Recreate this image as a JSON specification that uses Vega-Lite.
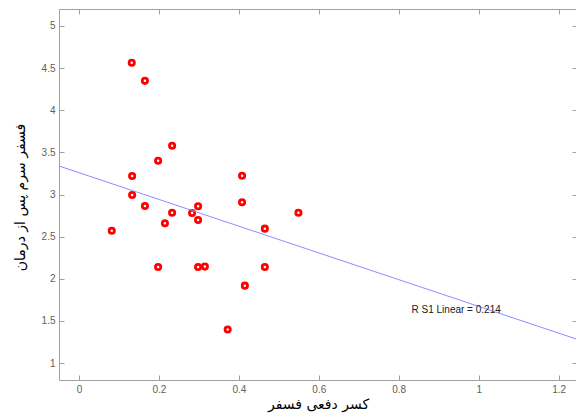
{
  "$schema": "https://vega.github.io/schema/vega-lite/v6.json",
  "autosize": "none",
  "width": 518,
  "height": 371,
  "padding": {"left": 59, "top": 9, "right": 0, "bottom": 37},
  "background": "white",
  "config": {
    "view": {"stroke": null},
    "axis": {
      "grid": false,
      "domainColor": "#a0a0a0",
      "tickColor": "#a0a0a0",
      "tickSize": -5,
      "labelColor": "#606060",
      "labelFont": "Liberation Sans",
      "labelFontSize": 10,
      "titleFont": "DejaVu Sans",
      "titleFontSize": 14,
      "titleFontWeight": "normal",
      "titleColor": "#000000"
    }
  },
  "datasets": {
    "points": [
      {"x": 0.132, "y": 4.562},
      {"x": 0.165, "y": 4.348},
      {"x": 0.233, "y": 3.578},
      {"x": 0.198, "y": 3.400},
      {"x": 0.133, "y": 3.219},
      {"x": 0.408, "y": 3.223},
      {"x": 0.133, "y": 2.994},
      {"x": 0.165, "y": 2.864},
      {"x": 0.408, "y": 2.908},
      {"x": 0.298, "y": 2.860},
      {"x": 0.233, "y": 2.784},
      {"x": 0.283, "y": 2.781},
      {"x": 0.549, "y": 2.784},
      {"x": 0.298, "y": 2.698},
      {"x": 0.215, "y": 2.659},
      {"x": 0.082, "y": 2.571},
      {"x": 0.465, "y": 2.595},
      {"x": 0.198, "y": 2.141},
      {"x": 0.298, "y": 2.141},
      {"x": 0.315, "y": 2.145},
      {"x": 0.465, "y": 2.141},
      {"x": 0.415, "y": 1.919},
      {"x": 0.372, "y": 1.398}
    ],
    "fit": [
      {"x": -0.05, "y": 3.338},
      {"x": 1.246, "y": 1.283}
    ],
    "note": [
      {"x": 0.832, "y": 1.596, "label": "R S1 Linear = 0.214"}
    ]
  },
  "layer": [
    {
      "data": {"name": "points"},
      "mark": {"type": "point", "shape": "circle", "filled": false, "fill": "white", "fillOpacity": 1, "stroke": "#ff0000", "strokeWidth": 2.8, "size": 28, "opacity": 1},
      "encoding": {
        "x": {
          "field": "x", "type": "quantitative",
          "scale": {"domain": [-0.05, 1.246], "nice": false, "zero": false},
          "axis": {"orient": "bottom", "values": [0, 0.2, 0.4, 0.6, 0.8, 1, 1.2], "format": "~g", "labelPadding": 9, "title": "کسر دفعی فسفر", "titlePadding": 3}
        },
        "y": {
          "field": "y", "type": "quantitative",
          "scale": {"domain": [0.8, 5.2], "nice": false, "zero": false},
          "axis": {"orient": "left", "values": [1, 1.5, 2, 2.5, 3, 3.5, 4, 4.5, 5], "format": "~g", "labelPadding": 9, "title": "فسفر سرم پس از درمان", "titlePadding": 14, "titleY": 188}
        }
      }
    },
    {
      "data": {"name": "fit"},
      "mark": {"type": "line", "color": "#8c8cff", "strokeWidth": 1, "clip": true},
      "encoding": {
        "x": {
          "field": "x", "type": "quantitative",
          "axis": {"orient": "top", "values": [0, 0.2, 0.4, 0.6, 0.8, 1, 1.2], "labels": false, "title": null}
        },
        "y": {
          "field": "y", "type": "quantitative",
          "axis": {"orient": "right", "values": [1, 1.5, 2, 2.5, 3, 3.5, 4, 4.5, 5], "labels": false, "title": null}
        }
      }
    },
    {
      "data": {"name": "note"},
      "mark": {"type": "text", "align": "left", "baseline": "alphabetic", "font": "Liberation Sans", "fontSize": 10, "color": "#202020"},
      "encoding": {
        "x": {"field": "x", "type": "quantitative", "axis": null},
        "y": {"field": "y", "type": "quantitative", "axis": null},
        "text": {"field": "label"}
      }
    }
  ],
  "resolve": {"axis": {"x": "independent", "y": "independent"}}
}
